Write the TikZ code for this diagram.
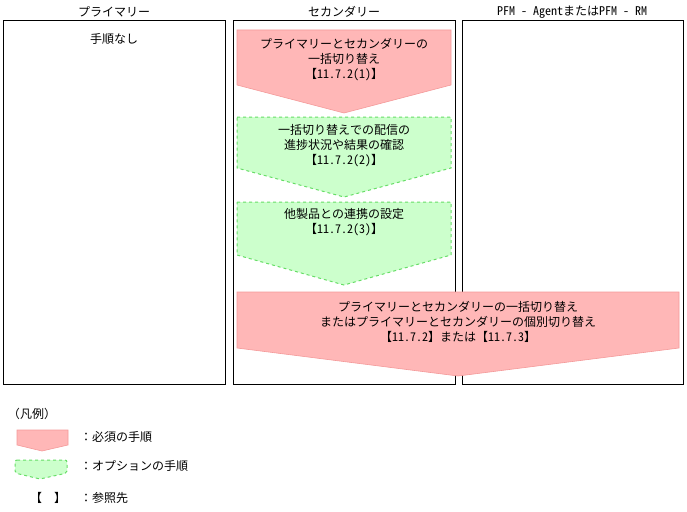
\documentclass[tikz,border=0pt]{standalone}
\usepackage{fontspec}
\setmainfont{Noto Sans CJK JP}
\newfontfamily\monof{Noto Sans Mono CJK JP}
\definecolor{rf}{HTML}{FFB7B7}
\definecolor{rd}{HTML}{F49A9A}
\definecolor{gf}{HTML}{CCFFCC}
\definecolor{gd}{HTML}{66DD66}
\begin{document}
\begin{tikzpicture}[x=1pt,y=-1pt,font=\monof\fontsize{12}{15}\selectfont,
  col/.style={draw=black,line width=0.7pt},
  must/.style={fill=rf,draw=rd,line width=0.6pt},
  opt/.style={fill=gf,draw=gd,dashed,line width=1pt},
  txt/.style={align=center,inner sep=0pt}]
\useasboundingbox (0,0) rectangle (687,511);
\draw[col] (3,20) rectangle (225,384);
\draw[col] (233,20) rectangle (455,384);
\draw[col] (462,20) rectangle (683,384);
\node[txt] (h1) at (114,12) {プライマリー};
\node[txt] (h2) at (344,12) {セカンダリー};
\node[txt] (h3) at (572,12) {PFM - AgentまたはPFM - RM};
\node[txt] (none) at (114,39) {手順なし};
\draw[must] (237,30) -- (451,30) -- (451,85) -- (344,113) -- (237,85) -- cycle;
\node[txt] (s1) at (344,60) {プライマリーとセカンダリーの\\一括切り替え\\【11.7.2(1)】};
\draw[opt] (237,117) -- (451,117) -- (451,168) -- (344,197) -- (237,168) -- cycle;
\node[txt] (s2) at (344,146) {一括切り替えでの配信の\\進捗状況や結果の確認\\【11.7.2(2)】};
\draw[opt] (237,202) -- (451,202) -- (451,255) -- (344,285) -- (237,255) -- cycle;
\node[txt] (s3) at (344,222) {他製品との連携の設定\\【11.7.2(3)】};
\draw[must] (237,292) -- (679,292) -- (679,348) -- (458,376) -- (237,348) -- cycle;
\node[txt] (s4) at (458,322) {プライマリーとセカンダリーの一括切り替え\\またはプライマリーとセカンダリーの個別切り替え\\【11.7.2】または【11.7.3】};
\node[txt] (lg) at (32,414) {（凡例）};
\draw[must] (17,430) -- (68,430) -- (68,445) -- (42,451) -- (17,445) -- cycle;
\node[txt,anchor=west] (l1) at (80,437) {：必須の手順};
\draw[opt,rounded corners=2pt] (15,460) -- (67,460) -- (67,473) -- (40,479) -- (15,473) -- cycle;
\node[txt,anchor=west] (l2) at (80,466) {：オプションの手順};
\node[txt] (l3b) at (48,498) {【\ \ 】};
\node[txt,anchor=west] (l3) at (80,498) {：参照先};
\end{tikzpicture}
\end{document}
